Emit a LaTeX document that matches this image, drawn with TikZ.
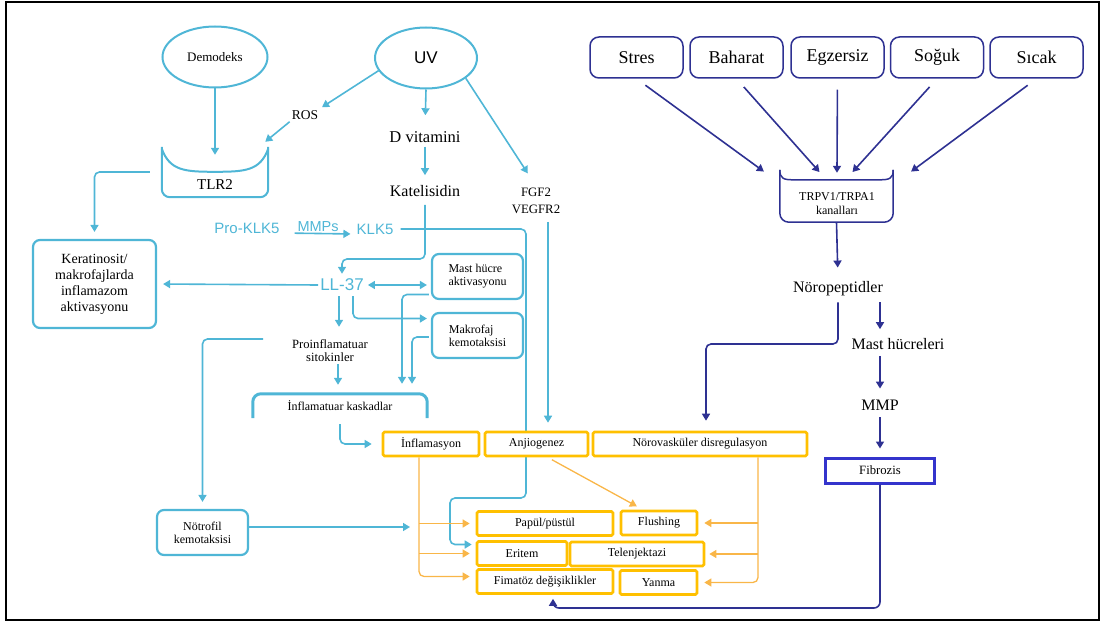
\documentclass[tikz,border=0pt]{standalone}
\usepackage{fontspec}
\setmainfont{Liberation Serif}
\newfontfamily\sansf{Liberation Sans}
\usetikzlibrary{arrows.meta,shapes.geometric}
\pgfdeclarelayer{background}
\pgfsetlayers{background,main}

\definecolor{cyanc}{RGB}{79,182,214}
\definecolor{navyc}{RGB}{46,49,146}
\definecolor{fibc}{RGB}{52,52,204}
\definecolor{oboxc}{RGB}{255,192,0}
\definecolor{oarrc}{RGB}{249,182,72}

\begin{document}
\begin{tikzpicture}[x=1pt,y=-1pt,
  cline/.style={draw=cyanc,line width=1.6pt,-{Triangle[length=7pt,width=8pt]}},
  nline/.style={draw=navyc,line width=1.6pt,-{Triangle[length=7pt,width=8pt]}},
  oline/.style={draw=oarrc,line width=1.3pt,-{Triangle[length=7pt,width=8pt]}},
  cbox/.style={draw=cyanc,line width=2.2pt,rounded corners=7pt,fill=white,align=center,inner sep=0pt},
  obox/.style={draw=oboxc,line width=2.6pt,rounded corners=1.5pt,fill=white,inner sep=0pt,minimum height=24pt,font=\fontsize{12}{14}\selectfont},
  nbox/.style={draw=navyc,line width=1.5pt,rounded corners=9pt,minimum width=93pt,minimum height=41pt,font=\fontsize{18}{20}\selectfont},
  ctxt/.style={text=cyanc,font=\sansf\fontsize{15}{17}\selectfont,inner sep=2pt},
  ttxt/.style={inner sep=2pt,align=center}]
  \useasboundingbox (0,0) rectangle (1104,623);
  \draw[line width=2pt] (6,2) rectangle (1099,620);

  % ---- left (cyan) part
  \node[ellipse,draw=cyanc,line width=2pt,minimum width=105pt,minimum height=61pt,inner sep=0pt,font=\fontsize{13}{15}\selectfont] (demo) at (215,57) {Demodeks};
  \node[ellipse,draw=cyanc,line width=2pt,minimum width=102pt,minimum height=61pt,inner sep=0pt,font=\sansf\fontsize{17}{19}\selectfont] (uv) at (426,58) {UV};
  \node[ttxt,font=\fontsize{13.5}{15}\selectfont] (ros) at (305,115) {ROS};
  \node[ttxt,font=\fontsize{16.5}{18}\selectfont] (dvit) at (425,137) {D vitamini};
  \node[ttxt,font=\fontsize{16}{18}\selectfont] (kat) at (425,191) {Katelisidin};
  \node[ttxt,font=\fontsize{12.8}{17}\selectfont] (fgf) at (536,201) {FGF2\\VEGFR2};

  % TLR2 receptor
  \node[minimum width=106pt,minimum height=50pt,inner sep=0pt] (tlr) at (215,172) {};
  \node[font=\fontsize{15}{17}\selectfont] (tlrtxt) at (215,185) {TLR2};
  \draw[cyanc,line width=2pt,rounded corners=8pt] (tlr.north west) -- (tlr.south west) -- (tlr.south east) -- (tlr.north east);
  \draw[cyanc,line width=2pt] ([yshift=-2pt]tlr.north west) .. controls +(8,22) and +(-30,0) .. ([yshift=-25pt]tlr.north)
        .. controls +(30,0) and +(-8,22) .. ([yshift=-2pt]tlr.north east);

  \node[cbox,minimum width=123pt,minimum height=88pt,font=\fontsize{14}{16}\selectfont] (ker) at (94.5,284) {Keratinosit/\\makrofajlarda\\inflamazom\\aktivasyonu};
  \node[ctxt] (prok) at (247,228) {Pro-KLK5};
  \node[ctxt] (klk5) at (375,229) {KLK5};
  \node[ctxt,font=\sansf\fontsize{17}{19}\selectfont] (ll37) at (342,285) {LL-37};
  \node[cbox,minimum width=91pt,minimum height=45pt,font=\fontsize{12}{13}\selectfont,align=left] (mast) at (477.5,276.5) {Mast hücre\\aktivasyonu};
  \node[cbox,minimum width=91pt,minimum height=45pt,font=\fontsize{12}{13}\selectfont,align=left] (makro) at (477.5,335.5) {Makrofaj\\kemotaksisi};
  \node[ttxt,font=\fontsize{12.6}{13}\selectfont] (pro) at (330,351) {Proinflamatuar\\sitokinler};
  \node[minimum width=174pt,minimum height=24pt,inner sep=0pt,font=\fontsize{12}{14}\selectfont] (kask) at (340,406) {İnflamatuar kaskadlar};
  \draw[cyanc,line width=3pt,rounded corners=8pt] (kask.south west) -- (kask.north west) -- (kask.north east) -- (kask.south east);
  \node[cbox,minimum width=91pt,minimum height=45pt,font=\fontsize{12}{13}\selectfont] (notro) at (202.5,532.5) {Nötrofil\\kemotaksisi};

  % ---- orange boxes
  \node[obox,minimum width=96pt] (inf) at (431,444) {İnflamasyon};
  \node[obox,minimum width=103pt] (anj) at (536.5,444) {Anjiogenez};
  \node[obox,minimum width=214pt] (noro) at (700,444) {Nörovasküler disregulasyon};
  \node[obox,minimum width=136pt] (papul) at (545,523.5) {Papül/püstül};
  \node[obox,minimum width=76pt] (flush) at (659,523) {Flushing};
  \node[obox,minimum width=90pt] (eritem) at (522,553.5) {Eritem};
  \node[obox,minimum width=134pt] (telen) at (637,554) {Telenjektazi};
  \node[obox,minimum width=136pt] (fima) at (545,581.5) {Fimatöz değişiklikler};
  \node[obox,minimum width=77pt] (yanma) at (658.5,582.5) {Yanma};

  % ---- right (navy) part
  \node[nbox] (stres) at (636.5,57.5) {Stres};
  \node[nbox] (bahar) at (736.5,57.5) {Baharat};
  \node[nbox] (egz) at (837.5,57.5) {Egzersiz};
  \node[nbox] (soguk) at (937,57.5) {Soğuk};
  \node[nbox] (sicak) at (1036.5,57.5) {Sıcak};
  \node[minimum width=113pt,minimum height=52pt,inner sep=0pt] (trp) at (836.5,196) {};
  \node[ttxt,font=\fontsize{12}{14}\selectfont] (trptxt) at (837,204) {TRPV1/TRPA1\\kanalları};
  \draw[navyc,line width=1.5pt,rounded corners=9pt] (trp.north west) -- (trp.south west) -- (trp.south east) -- (trp.north east);
  \draw[navyc,line width=1.5pt] (trp.north west) .. controls +(0,9) and +(-10,0) .. ([xshift=14pt,yshift=-10pt]trp.north west)
        -- ([xshift=-14pt,yshift=-10pt]trp.north east) .. controls +(10,0) and +(0,9) .. (trp.north east);
  \node[ttxt,font=\fontsize{16}{18}\selectfont] (nrp) at (838,289) {Nöropeptidler};
  \node[ttxt,font=\fontsize{16}{18}\selectfont] (mh) at (898,344) {Mast hücreleri};
  \node[ttxt,font=\fontsize{16}{18}\selectfont] (mmp) at (880,405) {MMP};
  \node[draw=fibc,line width=3pt,minimum width=109pt,minimum height=25pt,inner sep=0pt,font=\fontsize{12.7}{14}\selectfont] (fib) at (880,470.5) {Fibrozis};

  % ---- helper points
  \coordinate (katb) at (425,259);
  \coordinate (klka) at (526,229);
  \coordinate (klkb) at (526,498);
  \coordinate (klkc) at (450,498);
  \coordinate (vegb) at (548,222);
  \coordinate (llb) at (339,293);
  \coordinate (notend) at (410,527);
  \coordinate (nrpc) at (706,344);
  \coordinate (fibc) at (553,608);

  % ---- cyan connectors
  \draw[cline] (demo.south) -- ([yshift=-8pt]tlr.north);
  \draw[cline,shorten >=2pt] (uv.195) -- (ros.north east);
  \draw[cline] (ros.south west) -- ([xshift=-3pt,yshift=5pt]tlr.north east);
  \draw[cline,rounded corners=5pt,shorten <=12pt,shorten >=7pt] (tlr.west) -| (ker.north);
  \draw[cline,shorten >=14pt] (uv.south) -- (dvit.north);
  \draw[cline,shorten <=2pt,shorten >=8pt] (dvit.south) -- (kat.north);
  \draw[cline,shorten >=15pt] (uv.-27) -- (fgf.north);
  \draw[cline,shorten >=8pt] (vegb) -- (vegb |- anj.north);
  \draw[cline,shorten <=6pt,shorten >=3pt,rounded corners=5pt] (kat.south) -- (katb) -| (ll37.north);
  \draw[cline,shorten <=13pt,shorten >=4pt] ([yshift=-5pt]prok.east) -- ([yshift=-5pt]klk5.west)
        node[midway,above=-1pt,ctxt,font=\sansf\fontsize{14.5}{16}\selectfont] (mmps) {MMPs};
  \begin{pgfonlayer}{background}
    \draw[cline,rounded corners=5pt,shorten <=5pt,shorten >=4pt] (klk5.east) -- (klka) -- (klkb) -- (klkc) |- ([yshift=9pt]eritem.west);
  \end{pgfonlayer}
  \draw[cline,shorten >=6pt] (ll37.west) -- (ker.east);
  \draw[cline,{Triangle[length=7pt,width=8pt]}-{Triangle[length=7pt,width=8pt]},shorten <=2pt,shorten >=4pt] (ll37.east) -- (ll37.east -| mast.west);
  \draw[cline,rounded corners=5pt,shorten <=3pt,shorten >=4pt] ([xshift=11pt]ll37.south) |- ([yshift=17pt]makro.west);
  \draw[cline,shorten <=3pt,shorten >=11pt] (llb) -- (llb |- pro.north);
  \draw[cline,shorten >=9pt] ([xshift=8pt]pro.south) -- ([xshift=-2pt]kask.north);
  \draw[cline,rounded corners=5pt,shorten <=2pt,shorten >=10pt] ([yshift=-18pt]mast.west) -| ([xshift=62pt]kask.north);
  \draw[cline,rounded corners=5pt,shorten <=2pt,shorten >=10pt] ([yshift=-1.5pt]makro.west) -| ([xshift=72pt]kask.north);
  \draw[cline,rounded corners=5pt,shorten <=6pt,shorten >=10pt] (kask.south) |- (inf.west);
  \draw[cline,rounded corners=5pt,shorten <=27pt,shorten >=7pt] ([yshift=12pt]pro.west) -| (notro.north);
  \draw[cline] (notro.east |- notend) -- (notend);

  % ---- orange connectors
  \draw[oline,rounded corners=5pt,shorten >=6pt] ([xshift=-12pt]inf.south) |- ([yshift=5pt]fima.west);
  \draw[oline,shorten >=6pt] ([xshift=-12pt]inf.south |- papul.west) -- (papul.west);
  \draw[oline,shorten >=6pt] ([xshift=-12pt]inf.south |- eritem.west) -- (eritem.west);
  \draw[oline,shorten <=5pt,shorten >=7pt] ([xshift=11pt]anj.south) -- ([xshift=-16pt]flush.north);
  \draw[oline,rounded corners=5pt,shorten >=6pt] ([xshift=58pt]noro.south) |- (yanma.east);
  \draw[oline,shorten >=6pt] ([xshift=58pt]noro.south |- flush.east) -- (flush.east);
  \draw[oline,shorten >=4pt] ([xshift=58pt]noro.south |- telen.east) -- (telen.east);

  % ---- navy connectors
  \draw[nline,shorten <=11pt,shorten >=-3pt] (stres.south) -- ([xshift=-75pt]trp.north);
  \draw[nline,shorten <=11pt,shorten >=-3pt] (bahar.south) -- ([xshift=-19pt]trp.north);
  \draw[nline,shorten <=11pt,shorten >=-3pt] (egz.south) -- ([xshift=0.5pt]trp.north);
  \draw[nline,shorten <=11pt,shorten >=-3pt] (soguk.south) -- ([xshift=18pt]trp.north);
  \draw[nline,shorten <=11pt,shorten >=-3pt] (sicak.south) -- ([xshift=77pt]trp.north);
  \draw[nline,shorten >=12pt] (trp.south) -- (nrp.north);
  \draw[nline,shorten <=4pt,shorten >=7pt] (nrp.south -| mmp.north) -- (mh.north -| mmp.north);
  \draw[nline,shorten <=4pt,shorten >=9pt] (mh.south -| mmp.north) -- (mmp.north);
  \draw[nline,shorten <=5pt,shorten >=8pt] (mmp.south) -- (fib.north);
  \draw[nline,rounded corners=5pt,shorten <=4pt,shorten >=10pt] (nrp.south) |- (nrpc) -- (nrpc |- noro.north);
  \draw[nline,rounded corners=6pt,shorten >=4pt] (fib.south) |- (fibc) -- (fibc |- fima.south);
\end{tikzpicture}
\end{document}
